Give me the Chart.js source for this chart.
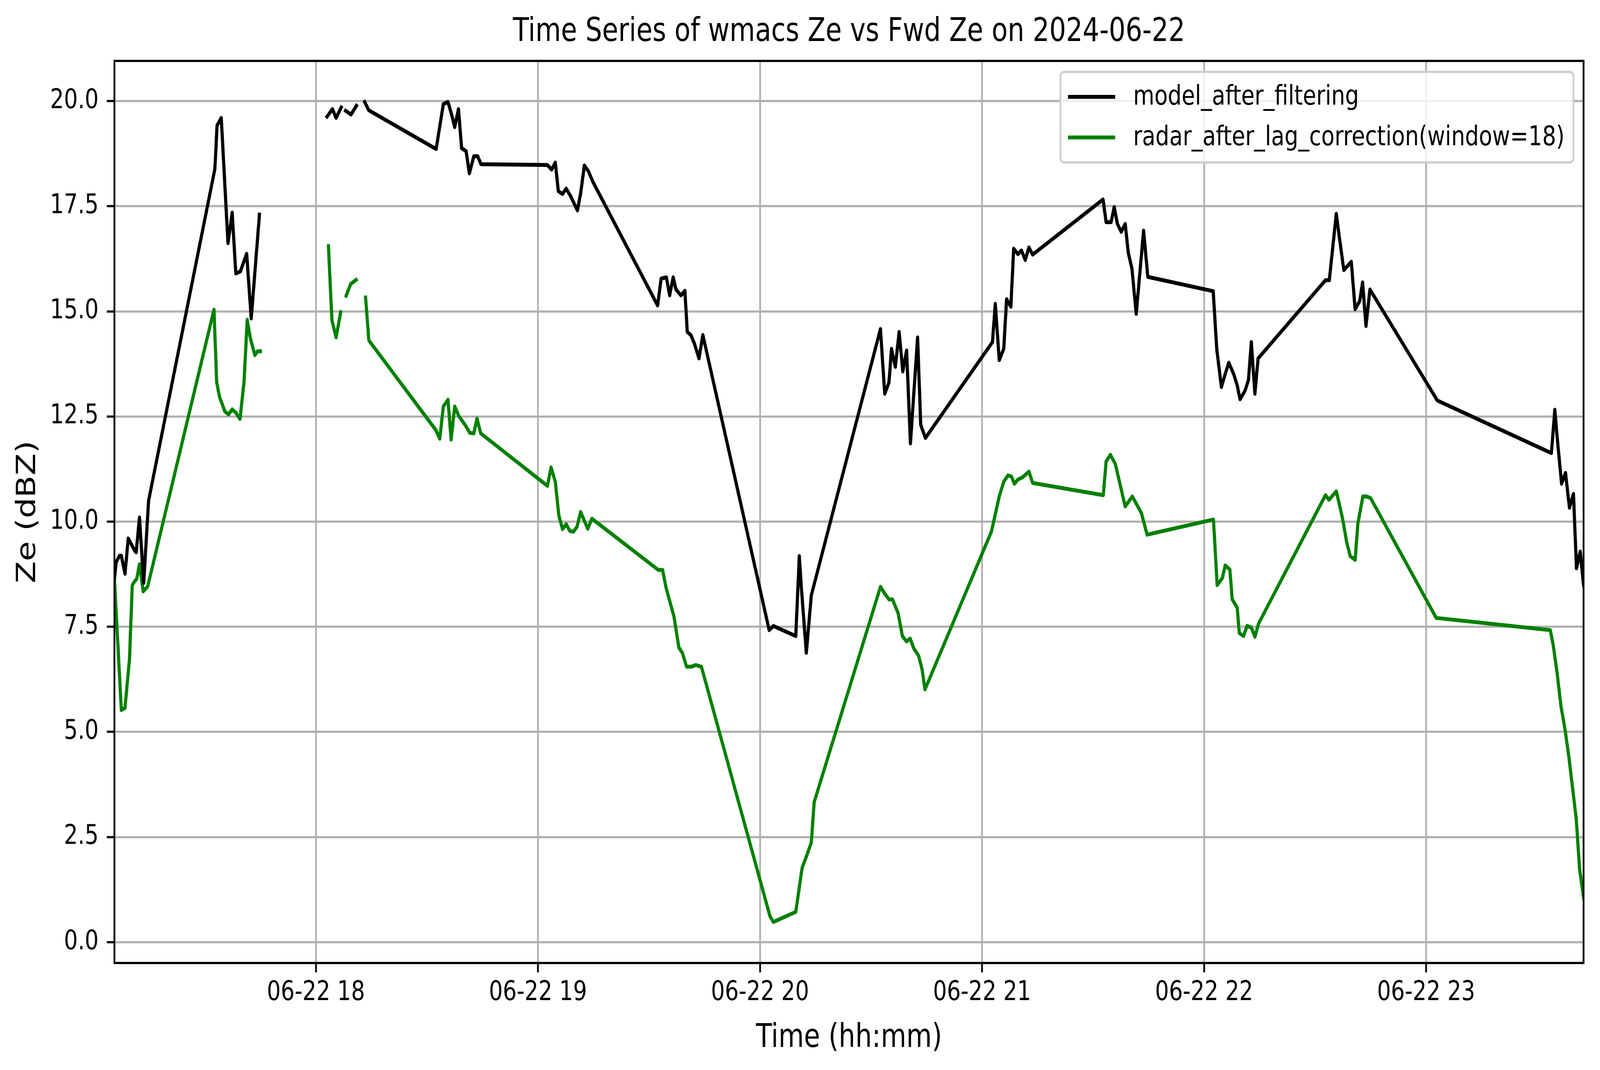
<!DOCTYPE html>
<html>
<head>
<meta charset="utf-8">
<script src="https://cdn.jsdelivr.net/npm/chart.js@4/dist/chart.umd.min.js"></script>
<style>
html,body{margin:0;padding:0;background:#ffffff;overflow:hidden;width:100%;height:100%;}
canvas{display:block;}
</style>
</head>
<body>
<canvas id="c" width="5062" height="2740"></canvas>
<script>
// ---------------- DATA ----------------
const chartTitle = "Time Series of wmacs Ze vs Fwd Ze on 2024-06-22";
const xAxisLabel = "Time (hh:mm)";
const yAxisLabel = "Ze (dBZ)";
const datePrefix = "06-22";
const seriesLabels = ["model_after_filtering", "radar_after_lag_correction(window=18)"];

const modelTimes = [
"17:05:33","17:06:02","17:06:55","17:07:25","17:08:24","17:09:17","17:11:06","17:11:26","17:12:19","17:13:27","17:14:47",
"17:32:42","17:33:17","17:34:25","17:36:14","17:37:22","17:38:21","17:39:35","17:41:17","17:42:31","17:44:44",
"17:53:00",
"18:03:00","18:04:28","18:05:27","18:06:50",
"18:07:25",
"18:08:01","18:09:29","18:10:57",
"18:12:00",
"18:13:10","18:14:18","18:32:29","18:34:26","18:35:41","18:36:40","18:37:30","18:38:31","18:39:22","18:40:35","18:41:28","18:42:40","18:43:41","18:44:37",
"19:02:33","19:03:41","19:04:41","19:05:30","19:06:38","19:07:37","19:08:49","19:10:40","19:11:33","19:12:32","19:13:39","19:14:47",
"19:32:20","19:33:17","19:34:42","19:35:35","19:36:32","19:37:18","19:38:38","19:39:42","19:40:21","19:41:18","19:42:15","19:43:31","19:44:33",
"20:02:29","20:03:37","20:04:35","20:09:40","20:10:37","20:11:11","20:12:31","20:13:52",
"20:32:33","20:33:42","20:34:51","20:35:32","20:36:34","20:37:36","20:38:35","20:39:37","20:40:39","20:42:35","20:43:26","20:44:42",
"21:02:49","21:03:35","21:04:39","21:05:52","21:06:38","21:07:47","21:08:33","21:09:41","21:10:39","21:11:41","21:12:40","21:13:41",
"21:32:42","21:33:32","21:34:52","21:35:43","21:36:35","21:37:37","21:38:41","21:39:32","21:40:31","21:41:40","21:43:39","21:44:48",
"22:02:28","22:03:25","22:04:41","22:05:43","22:06:40","22:08:00","22:08:57","22:09:43","22:11:03","22:12:00","22:12:46","22:13:44","22:14:36",
"22:32:48","22:33:50","22:35:44","22:36:37","22:37:46","22:39:47","22:40:49","22:42:04","22:42:50","22:43:45","22:44:49",
"23:03:02","23:33:51","23:34:47","23:35:23","23:36:37","23:37:40","23:38:44","23:39:49","23:40:38","23:41:38","23:42:33"
];
const modelZe = [
8.64,9.04,9.19,9.19,8.76,9.6,9.3,9.27,10.1,8.54,10.5,
18.39,19.42,19.6,16.62,17.35,15.9,15.95,16.37,14.83,17.3,
null,
19.63,19.81,19.6,19.85,
null,
19.77,19.68,19.89,
null,
19.98,19.78,18.86,19.93,19.98,19.68,19.38,19.81,18.88,18.81,18.28,18.69,18.69,18.5,
18.48,18.37,18.54,17.86,17.79,17.92,17.74,17.4,17.82,18.47,18.33,18.09,
15.14,15.78,15.81,15.38,15.81,15.52,15.38,15.49,14.51,14.44,14.24,13.88,14.44,
7.42,7.52,7.48,7.28,9.18,8.42,6.88,8.25,
14.58,13.04,13.31,14.11,13.68,14.51,13.57,14.07,11.86,14.38,12.3,11.99,
14.27,15.18,13.84,14.11,15.29,15.11,16.49,16.36,16.45,16.22,16.52,16.35,
17.66,17.12,17.12,17.48,17.08,16.89,17.08,16.39,16.01,14.94,16.92,15.82,
15.48,14.11,13.2,13.51,13.78,13.51,13.24,12.91,13.11,13.37,14.27,13.04,13.88,
15.74,15.74,17.32,16.72,15.98,16.18,15.05,15.25,15.69,14.65,15.52,
12.88,11.63,12.66,12.03,10.9,11.16,10.33,10.66,8.89,9.29,8.49
];

const radarTimes = [
"17:05:33","17:07:25","17:08:24","17:09:37","17:10:22","17:11:06","17:11:35","17:12:19","17:13:19","17:14:32",
"17:32:27","17:33:11","17:33:56","17:35:24","17:36:23","17:37:22","17:38:21","17:39:29","17:40:34","17:41:26","17:42:17","17:43:30","17:44:14","17:44:59",
"17:53:00",
"18:03:23","18:04:19","18:05:27","18:06:41",
"18:07:25",
"18:08:10","18:09:23","18:10:52",
"18:12:00",
"18:13:25","18:14:18","18:32:23","18:33:28","18:34:26","18:35:41","18:36:32","18:37:30","18:38:37","18:40:19","18:41:35","18:42:40","18:43:32","18:44:31",
"19:02:33","19:03:32","19:04:41","19:05:38","19:06:38","19:07:37","19:08:35","19:09:36","19:10:34","19:11:32","19:13:27","19:14:35",
"19:32:32","19:33:41","19:34:38","19:36:44","19:38:04","19:39:01","19:40:10","19:41:30","19:42:38","19:44:10",
"20:02:41","20:03:37","20:09:40","20:11:23","20:12:20","20:13:52","20:14:38",
"20:32:33","20:33:42","20:34:51","20:35:48","20:37:20","20:38:28","20:39:37","20:40:34","20:41:32","20:42:52","20:43:49","20:44:35",
"21:02:31","21:03:16","21:04:39","21:05:52","21:07:01","21:07:58","21:08:44","21:09:41","21:11:02","21:12:40","21:13:41",
"21:32:46","21:33:32","21:34:41","21:36:01","21:38:41","21:40:36","21:43:05","21:44:36",
"22:02:32","22:03:32","22:04:57","22:05:43","22:06:58","22:07:37","22:08:57","22:09:31","22:10:40","22:11:37","22:12:46","22:13:44","22:14:45",
"22:32:48","22:33:45","22:35:44","22:37:23","22:38:31","22:39:29","22:40:49","22:41:34","22:42:55","22:43:52","22:45:00",
"23:02:44","23:33:33","23:34:19","23:35:23","23:36:27","23:37:31","23:38:35","23:39:40","23:40:34","23:41:29","23:42:33"
];
const radarZe = [
8.64,5.52,5.57,6.73,8.49,8.59,8.64,8.99,8.34,8.46,
15.04,13.32,12.97,12.62,12.55,12.67,12.59,12.44,13.32,14.8,14.36,13.96,14.05,14.05,
null,
16.55,14.79,14.38,14.98,
null,
15.37,15.65,15.75,
null,
15.33,14.31,12.18,11.97,12.74,12.9,11.95,12.74,12.51,12.3,12.11,12.1,12.45,12.1,
10.85,11.29,10.95,10.15,9.82,9.94,9.78,9.76,9.88,10.23,9.83,10.07,
8.85,8.85,8.42,7.75,7.01,6.88,6.55,6.55,6.59,6.55,
0.62,0.48,0.72,1.77,1.99,2.37,3.33,
8.45,8.29,8.15,8.15,7.82,7.28,7.15,7.22,6.99,6.81,6.48,6.01,
9.76,10.05,10.6,10.95,11.1,11.07,10.9,11.0,11.06,11.19,10.92,
10.63,11.43,11.59,11.37,10.36,10.6,10.2,9.69,
10.05,8.49,8.66,8.96,8.86,8.15,7.95,7.35,7.28,7.52,7.48,7.26,7.58,
10.63,10.52,10.72,10.09,9.52,9.18,9.09,9.96,10.6,10.6,10.56,
7.71,7.42,7.08,6.41,5.61,5.07,4.4,3.6,2.93,1.73,1.06
];

// ---------------- HELPERS ----------------
function toHours(s){ const p = s.split(':').map(Number); return p[0] + p[1]/60 + (p[2]||0)/3600; }
function toPoints(times, vals){ return times.map((t,i)=>({x: toHours(t), y: vals[i]})); }

const FONT = '"DejaVu Sans", "Liberation Sans", sans-serif';
const allTimes = modelTimes.concat(radarTimes).map(toHours);
const xMin = Math.min(...allTimes), xMax = Math.max(...allTimes);
const allVals = modelZe.concat(radarZe).filter(v => v !== null);
const vMin = Math.min(...allVals), vMax = Math.max(...allVals);
const yMin = vMin - 0.05*(vMax - vMin), yMax = vMax + 0.05*(vMax - vMin);

// spines on top of the lines
const framePlugin = {
  id: 'frame',
  afterDatasetsDraw(chart){
    const a = chart.chartArea, ctx = chart.ctx;
    ctx.save();
    ctx.strokeStyle = '#000000';
    ctx.lineWidth = 5.6;
    ctx.lineJoin = 'miter';
    ctx.strokeRect(a.left, a.top, a.right - a.left, a.bottom - a.top);
    ctx.restore();
  }
};

// matplotlib-style legend inside the axes, upper right
const legendPlugin = {
  id: 'mplLegend',
  afterDraw(chart){
    const a = chart.chartArea, ctx = chart.ctx;
    const fs = 69;
    ctx.save();
    ctx.font = fs + 'px ' + FONT;
    const ds = chart.data.datasets;
    const tw = Math.max(...ds.map(d => ctx.measureText(d.label).width));
    const padL = 24, handleLen = 149, gap = 57, padR = 28;
    const boxW = padL + handleLen + gap + tw + padR;
    const boxH = 232;
    const x0 = a.right - 32 - boxW, y0 = a.top + 28;
    const r = 14;
    ctx.beginPath();
    ctx.moveTo(x0 + r, y0);
    ctx.lineTo(x0 + boxW - r, y0);
    ctx.quadraticCurveTo(x0 + boxW, y0, x0 + boxW, y0 + r);
    ctx.lineTo(x0 + boxW, y0 + boxH - r);
    ctx.quadraticCurveTo(x0 + boxW, y0 + boxH, x0 + boxW - r, y0 + boxH);
    ctx.lineTo(x0 + r, y0 + boxH);
    ctx.quadraticCurveTo(x0, y0 + boxH, x0, y0 + boxH - r);
    ctx.lineTo(x0, y0 + r);
    ctx.quadraticCurveTo(x0, y0, x0 + r, y0);
    ctx.closePath();
    ctx.fillStyle = 'rgba(255,255,255,0.8)';
    ctx.fill();
    ctx.strokeStyle = '#cccccc';
    ctx.lineWidth = 5.5;
    ctx.stroke();
    const rows = [64, 168];
    ds.forEach((d, i) => {
      const y = y0 + rows[i];
      ctx.beginPath();
      ctx.strokeStyle = d.borderColor;
      ctx.lineWidth = d.borderWidth;
      ctx.lineCap = 'butt';
      ctx.moveTo(x0 + padL, y);
      ctx.lineTo(x0 + padL + handleLen, y);
      ctx.stroke();
      ctx.fillStyle = '#000000';
      ctx.textAlign = 'left';
      ctx.textBaseline = 'middle';
      ctx.fillText(d.label, x0 + padL + handleLen + gap, y + 2);
    });
    ctx.restore();
  }
};

const canvas = document.getElementById('c');

new Chart(canvas.getContext('2d'), {
  type: 'line',
  data: {
    datasets: [
      {
        label: seriesLabels[0],
        data: toPoints(modelTimes, modelZe),
        borderColor: '#000000',
        backgroundColor: '#000000',
        borderWidth: 10,
        pointRadius: 0,
        pointHoverRadius: 0,
        tension: 0,
        spanGaps: false,
        fill: false,
        borderJoinStyle: 'round',
        borderCapStyle: 'square'
      },
      {
        label: seriesLabels[1],
        data: toPoints(radarTimes, radarZe),
        borderColor: '#008000',
        backgroundColor: '#008000',
        borderWidth: 10,
        pointRadius: 0,
        pointHoverRadius: 0,
        tension: 0,
        spanGaps: false,
        fill: false,
        borderJoinStyle: 'round',
        borderCapStyle: 'square'
      }
    ]
  },
  options: {
    responsive: false,
    devicePixelRatio: 1,
    animation: false,
    events: [],
    layout: { padding: { left: 0, right: 52, top: 0, bottom: 0 }, autoPadding: false },
    plugins: {
      legend: { display: false },
      tooltip: { enabled: false },
      title: {
        display: true,
        fullSize: false,
        text: chartTitle,
        color: '#000000',
        font: { family: FONT, size: 83, weight: 'normal' },
        padding: { top: 34, bottom: 22.4 }
      }
    },
    scales: {
      x: {
        type: 'linear',
        min: xMin,
        max: xMax,
        afterFit(scale){ scale.height = 274; },
        border: { display: false },
        grid: { color: '#b0b0b0', lineWidth: 5.5, drawTicks: true, tickLength: 24, tickColor: '#000000', tickWidth: 5.6 },
        ticks: {
          stepSize: 1,
          includeBounds: false,
          autoSkip: false,
          maxRotation: 0,
          minRotation: 0,
          color: '#000000',
          padding: 12,
          font: { family: FONT, size: 69 },
          callback: v => datePrefix + ' ' + String(Math.round(v)).padStart(2, '0')
        },
        title: {
          display: true,
          text: xAxisLabel,
          color: '#000000',
          font: { family: FONT, size: 83 },
          padding: { top: 0, bottom: 31 }
        }
      },
      y: {
        type: 'linear',
        min: yMin,
        max: yMax,
        afterFit(scale){ scale.width = 362; },
        border: { display: false },
        grid: { color: '#b0b0b0', lineWidth: 5.5, drawTicks: true, tickLength: 24, tickColor: '#000000', tickWidth: 5.6 },
        ticks: {
          stepSize: 2.5,
          includeBounds: false,
          autoSkip: false,
          color: '#000000',
          padding: 26,
          font: { family: FONT, size: 69 },
          callback: v => Number(v).toFixed(1)
        },
        title: {
          display: true,
          text: yAxisLabel,
          color: '#000000',
          font: { family: FONT, size: 83 },
          padding: { top: 40, bottom: 0 }
        }
      }
    }
  },
  plugins: [framePlugin, legendPlugin]
});

// the chart is laid out at the 5062 x 2740 reference size; show it filling the whole window
canvas.style.width = '100vw';
canvas.style.height = '100vh';
</script>
</body>
</html>
